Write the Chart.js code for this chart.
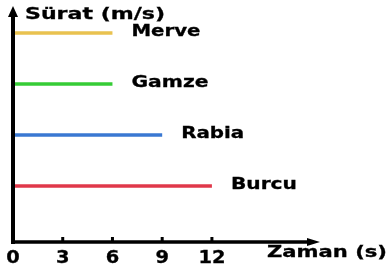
<!DOCTYPE html>
<html>
<head>
<meta charset="utf-8">
<script src="https://cdn.jsdelivr.net/npm/chart.js@4"></script>
<style>
  html, body { margin: 0; padding: 0; background: #fff; }
  canvas { display: block; }
</style>
</head>
<body>
<canvas id="chart" width="388" height="268"></canvas>
<script>
// runners, their speed (m/s) and how long each line lasts (s)
const names = ['Merve', 'Gamze', 'Rabia', 'Burcu'];
const speeds = [4, 3, 2, 1];
const times = [6, 6, 9, 12];
const xTicks = [0, 3, 6, 9, 12];
const yTitle = 'Sürat (m/s)';
const xTitle = 'Zaman (s)';

const colors = ['#e9c24f', '#36cc36', '#3a78d2', '#e0384a'];
const FONT = '"DejaVu Sans", Verdana, sans-serif';

// draw bold text stretched to a given width (the source picture is squashed wide)
function fitText(ctx, text, x, cy, size, width, align) {
  ctx.save();
  ctx.font = 'bold ' + size + 'px ' + FONT;
  ctx.textBaseline = 'middle';
  ctx.textAlign = 'left';
  const w = ctx.measureText(text).width;
  const sx = width / w;
  let left = x;
  if (align === 'center') left = x - width / 2;
  ctx.translate(left, cy);
  ctx.scale(sx, 1);
  ctx.fillStyle = '#000';
  ctx.strokeStyle = '#000';
  ctx.lineWidth = 0.3;
  ctx.fillText(text, 0, 0);
  ctx.strokeText(text, 0, 0);
  ctx.restore();
}

const axesPlugin = {
  id: 'axes',
  afterDatasetsDraw(chart) {
    const ctx = chart.ctx;
    const {left, right, top, bottom} = chart.chartArea;
    const xs = chart.scales.x;
    const ys = chart.scales.y;

    ctx.save();
    ctx.strokeStyle = '#000';
    ctx.fillStyle = '#000';
    ctx.lineWidth = 4;
    ctx.lineCap = 'butt';

    // y axis
    ctx.beginPath();
    ctx.moveTo(left, bottom + 2);
    ctx.lineTo(left, top + 8);
    ctx.stroke();
    ctx.beginPath();
    ctx.moveTo(left, top - 2);
    ctx.lineTo(left - 5, top + 9);
    ctx.lineTo(left + 5, top + 9);
    ctx.closePath();
    ctx.fill();

    // x axis
    ctx.lineWidth = 3.5;
    ctx.beginPath();
    ctx.moveTo(left - 2, bottom);
    ctx.lineTo(right - 10, bottom);
    ctx.stroke();
    ctx.beginPath();
    ctx.moveTo(right + 2, bottom);
    ctx.lineTo(right - 11, bottom - 4);
    ctx.lineTo(right - 11, bottom + 4);
    ctx.closePath();
    ctx.fill();

    // tick stubs + labels
    ctx.lineWidth = 3;
    xTicks.forEach((v) => {
      const px = xs.getPixelForValue(v);
      if (v !== 0) {
        ctx.beginPath();
        ctx.moveTo(px, bottom - 5);
        ctx.lineTo(px, bottom);
        ctx.stroke();
      }
      const label = String(v);
      fitText(ctx, label, px, bottom + 17, 17, label.length * 13.5, 'center');
    });
    ctx.restore();

    // axis titles
    fitText(ctx, yTitle, left + 12, top + 7, 16, 140);
    fitText(ctx, xTitle, right - 51, bottom + 11, 15, 120);

    // runner names next to the end of each line
    const nameWidths = {Merve: 69, Gamze: 77, Rabia: 63, Burcu: 66};
    names.forEach((n, i) => {
      const px = xs.getPixelForValue(times[i]) + 19;
      const py = ys.getPixelForValue(speeds[i]) - 1.5;
      fitText(ctx, n, px, py, 16, nameWidths[n]);
    });
  },
};

const datasets = names.map((n, i) => ({
  label: n,
  data: [
    {x: 0, y: speeds[i]},
    {x: times[i], y: speeds[i]},
  ],
  borderColor: colors[i],
  backgroundColor: colors[i],
  borderWidth: 3.5,
  pointRadius: 0,
  fill: false,
  tension: 0,
}));

new Chart(document.getElementById('chart'), {
  type: 'line',
  data: {datasets},
  options: {
    responsive: false,
    animation: false,
    layout: {padding: {left: 13, right: 70, top: 8, bottom: 26}},
    plugins: {legend: {display: false}, tooltip: {enabled: false}},
    scales: {
      x: {type: 'linear', min: 0, max: 18.4, display: false},
      y: {type: 'linear', min: -0.1, max: 4.49, display: false},
    },
  },
  plugins: [axesPlugin],
});
</script>
</body>
</html>
